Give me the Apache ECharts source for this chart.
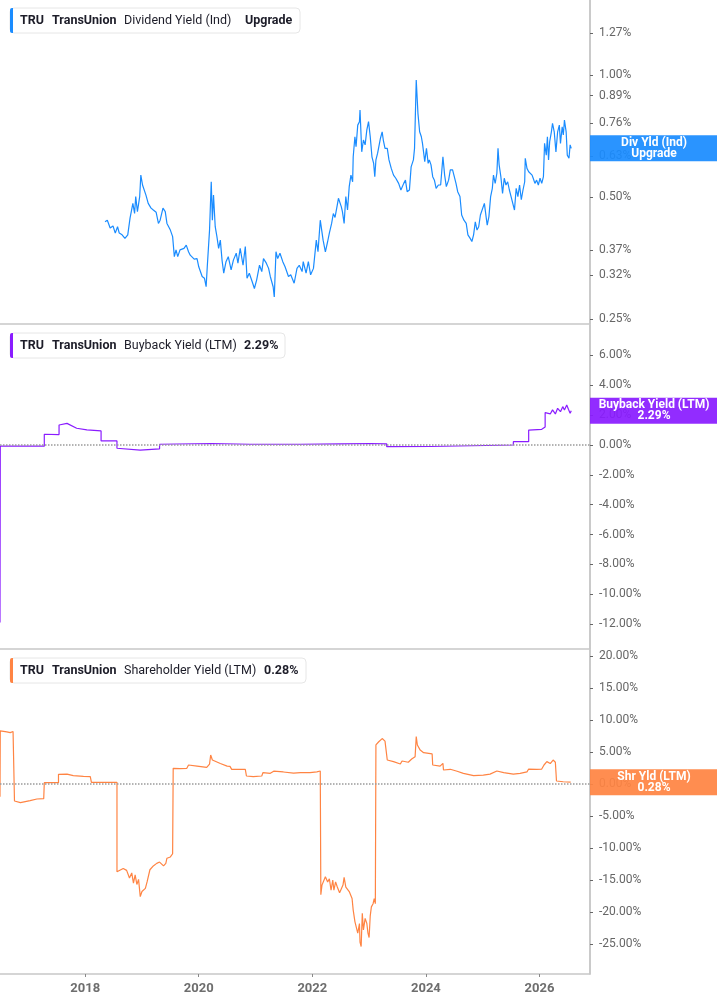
<!DOCTYPE html>
<html>
<head>
<meta charset="utf-8">
<script src="https://cdn.jsdelivr.net/npm/echarts@6/dist/echarts.min.js"></script>
<style>
html, body { margin: 0; padding: 0; background: #fff; }
#main { width: 717px; height: 1005px; }
</style>
</head>
<body>
<div id="main"></div>
<script>
// tick labels
const yearTicks = [2018, 2020, 2022, 2024, 2026];
const divTicks = [0.25, 0.32, 0.37, 0.50, 0.63, 0.76, 0.89, 1.00, 1.27];
const buyTicks = [-12, -10, -8, -6, -4, -2, 0, 2, 4, 6];
const shrTicks = [-25, -20, -15, -10, -5, 0, 5, 10, 15, 20];

// [year, %]
const divYield = [
  [2018.35,0.434],[2018.39,0.438],[2018.44,0.419],[2018.49,0.424],[2018.53,0.407],[2018.57,0.422],[2018.60,0.407],
  [2018.65,0.403],[2018.70,0.395],[2018.75,0.403],[2018.79,0.443],[2018.82,0.447],[2018.84,0.482],[2018.87,0.455],
  [2018.89,0.501],[2018.92,0.460],[2018.96,0.501],[2018.98,0.566],[2019.01,0.535],[2019.04,0.530],[2019.07,0.505],
  [2019.11,0.482],[2019.16,0.469],[2019.20,0.464],[2019.25,0.458],[2019.29,0.430],[2019.32,0.438],[2019.37,0.469],
  [2019.41,0.460],[2019.44,0.430],[2019.50,0.414],[2019.54,0.399],[2019.57,0.356],[2019.60,0.370],[2019.63,0.356],
  [2019.67,0.370],[2019.70,0.366],[2019.74,0.373],[2019.78,0.380],[2019.82,0.366],[2019.85,0.359],[2019.88,0.356],
  [2019.92,0.351],[2019.97,0.352],[2020.00,0.336],[2020.06,0.318],[2020.10,0.315],[2020.13,0.300],[2020.15,0.336],
  [2020.19,0.414],[2020.22,0.545],[2020.24,0.438],[2020.26,0.505],[2020.29,0.422],[2020.32,0.399],[2020.35,0.373],
  [2020.38,0.391],[2020.41,0.349],[2020.44,0.324],[2020.48,0.346],[2020.52,0.356],[2020.57,0.330],[2020.61,0.349],
  [2020.66,0.363],[2020.69,0.343],[2020.73,0.373],[2020.78,0.339],[2020.82,0.377],[2020.85,0.315],[2020.89,0.324],
  [2020.94,0.309],[2020.98,0.297],[2021.02,0.312],[2021.07,0.339],[2021.11,0.327],[2021.14,0.352],[2021.19,0.343],
  [2021.23,0.333],[2021.26,0.318],[2021.31,0.300],[2021.33,0.283],[2021.36,0.366],[2021.39,0.352],[2021.43,0.363],
  [2021.48,0.346],[2021.52,0.336],[2021.58,0.318],[2021.62,0.321],[2021.68,0.306],[2021.73,0.333],[2021.77,0.339],
  [2021.82,0.327],[2021.84,0.346],[2021.89,0.324],[2021.93,0.346],[2021.97,0.321],[2022.02,0.333],[2022.07,0.391],
  [2022.10,0.366],[2022.14,0.438],[2022.19,0.391],[2022.23,0.366],[2022.27,0.388],[2022.30,0.407],[2022.34,0.430],
  [2022.37,0.455],[2022.40,0.445],[2022.44,0.478],[2022.46,0.496],[2022.51,0.473],[2022.53,0.460],[2022.56,0.430],
  [2022.59,0.501],[2022.62,0.464],[2022.65,0.530],[2022.68,0.566],[2022.71,0.545],[2022.72,0.628],[2022.75,0.704],
  [2022.77,0.665],[2022.80,0.752],[2022.83,0.767],[2022.84,0.820],[2022.87,0.646],[2022.90,0.691],[2022.93,0.672],
  [2022.96,0.732],[2022.99,0.767],[2023.02,0.704],[2023.05,0.628],[2023.08,0.605],[2023.10,0.561],[2023.12,0.617],
  [2023.15,0.641],[2023.20,0.698],[2023.23,0.724],[2023.25,0.691],[2023.28,0.659],[2023.32,0.659],[2023.35,0.617],
  [2023.39,0.588],[2023.43,0.566],[2023.47,0.556],[2023.52,0.540],[2023.56,0.520],[2023.61,0.540],[2023.64,0.550],
  [2023.67,0.515],[2023.71,0.520],[2023.74,0.593],[2023.78,0.617],[2023.80,0.659],[2023.83,0.972],[2023.86,0.804],
  [2023.89,0.724],[2023.92,0.704],[2023.94,0.678],[2023.98,0.611],[2024.01,0.659],[2024.04,0.605],[2024.06,0.617],
  [2024.09,0.600],[2024.12,0.561],[2024.15,0.550],[2024.18,0.525],[2024.22,0.535],[2024.26,0.535],[2024.30,0.628],
  [2024.33,0.566],[2024.36,0.530],[2024.40,0.550],[2024.43,0.583],[2024.47,0.583],[2024.50,0.561],[2024.53,0.540],
  [2024.56,0.515],[2024.60,0.501],[2024.63,0.451],[2024.67,0.438],[2024.71,0.430],[2024.74,0.403],[2024.78,0.395],
  [2024.81,0.388],[2024.84,0.403],[2024.87,0.434],[2024.90,0.414],[2024.93,0.422],[2024.96,0.451],[2024.99,0.447],
  [2025.03,0.482],[2025.06,0.447],[2025.08,0.426],[2025.11,0.447],[2025.14,0.501],[2025.17,0.525],[2025.19,0.566],
  [2025.22,0.540],[2025.25,0.572],[2025.27,0.659],[2025.29,0.600],[2025.32,0.561],[2025.35,0.510],[2025.38,0.556],
  [2025.41,0.535],[2025.44,0.545],[2025.47,0.520],[2025.50,0.501],[2025.53,0.496],[2025.56,0.464],[2025.59,0.525],
  [2025.62,0.501],[2025.65,0.535],[2025.68,0.492],[2025.71,0.520],[2025.74,0.545],[2025.75,0.623],[2025.78,0.588],
  [2025.81,0.577],[2025.84,0.577],[2025.87,0.566],[2025.89,0.556],[2025.92,0.540],[2025.95,0.550],[2025.98,0.535],
  [2026.01,0.556],[2026.04,0.540],[2026.07,0.561],[2026.09,0.678],[2026.12,0.634],[2026.14,0.704],[2026.16,0.617],
  [2026.18,0.685],[2026.21,0.724],[2026.23,0.760],[2026.26,0.724],[2026.29,0.646],[2026.32,0.724],[2026.35,0.752],
  [2026.37,0.678],[2026.40,0.745],[2026.42,0.711],[2026.44,0.774],[2026.47,0.724],[2026.49,0.634],[2026.52,0.623],
  [2026.54,0.672],[2026.56,0.659]
];

const buybackYield = [
  [2016.50,-11.9],[2016.505,-0.08],[2017.28,-0.08],[2017.28,0.72],[2017.54,0.70],[2017.54,1.34],[2017.68,1.45],
  [2017.85,1.12],[2018.03,1.01],[2018.28,0.94],[2018.28,0.27],[2018.56,0.27],[2018.56,-0.22],[2018.97,-0.34],
  [2019.31,-0.26],[2019.31,0.05],[2020.23,0.10],[2020.90,0.05],[2021.79,0.05],[2022.49,0.08],[2023.02,0.10],
  [2023.31,0.08],[2023.31,-0.11],[2024.08,-0.10],[2024.81,-0.05],[2025.54,0.0],[2025.54,0.22],[2025.81,0.22],
  [2025.81,1.0],[2026.04,1.05],[2026.10,1.2],[2026.10,2.17],[2026.13,2.23],[2026.19,2.08],[2026.23,2.35],
  [2026.28,2.08],[2026.32,2.46],[2026.37,2.23],[2026.41,2.57],[2026.44,2.35],[2026.48,2.68],[2026.51,2.39],
  [2026.54,2.12],[2026.56,2.29]
];

const shareholderYield = [
  [2016.50,-2.0],[2016.505,8.3],[2016.62,8.15],[2016.68,8.02],[2016.73,8.2],[2016.75,8.1],[2016.755,-2.66],
  [2016.86,-2.9],[2017.03,-2.6],[2017.15,-2.34],[2017.27,-2.3],[2017.28,0.2],[2017.53,0.2],[2017.53,1.51],
  [2017.68,1.55],[2017.79,1.3],[2017.97,1.2],[2018.09,1.15],[2018.11,0.26],[2018.56,0.26],[2018.56,-13.7],
  [2018.59,-14.0],[2018.67,-13.2],[2018.73,-13.5],[2018.78,-14.7],[2018.82,-13.9],[2018.85,-15.5],[2018.88,-14.2],
  [2018.91,-15.7],[2018.94,-14.9],[2018.97,-17.6],[2019.00,-16.8],[2019.03,-17.0],[2019.06,-16.3],[2019.09,-15.3],
  [2019.11,-15.3],[2019.14,-13.4],[2019.20,-12.8],[2019.26,-12.4],[2019.31,-12.2],[2019.34,-11.9],[2019.38,-12.8],
  [2019.42,-12.4],[2019.44,-11.6],[2019.50,-11.4],[2019.54,-10.9],[2019.55,2.45],[2019.67,2.4],[2019.79,2.45],
  [2019.82,2.97],[2019.97,2.8],[2020.14,2.6],[2020.19,3.1],[2020.21,4.53],[2020.24,3.75],[2020.26,3.5],
  [2020.38,3.2],[2020.50,2.8],[2020.55,2.75],[2020.58,2.29],[2020.82,2.29],[2020.84,1.25],[2020.96,1.15],
  [2021.11,1.25],[2021.13,1.77],[2021.26,1.67],[2021.32,2.0],[2021.49,1.88],[2021.67,1.7],[2021.79,1.77],
  [2021.96,1.77],[2022.08,1.9],[2022.14,2.03],[2022.15,-17.3],[2022.17,-15.8],[2022.23,-14.5],[2022.27,-15.3],
  [2022.30,-14.8],[2022.33,-16.6],[2022.36,-15.0],[2022.38,-16.6],[2022.41,-15.3],[2022.44,-16.1],[2022.48,-17.0],
  [2022.50,-16.6],[2022.54,-15.8],[2022.56,-14.6],[2022.59,-16.1],[2022.62,-15.8],[2022.65,-16.8],[2022.68,-16.8],
  [2022.70,-17.9],[2022.72,-19.7],[2022.75,-21.5],[2022.78,-21.3],[2022.80,-23.3],[2022.83,-21.8],[2022.84,-24.7],
  [2022.86,-25.4],[2022.88,-20.2],[2022.90,-22.8],[2022.93,-21.0],[2022.96,-21.8],[2022.98,-23.3],[2023.00,-24.0],
  [2023.02,-20.6],[2023.04,-19.2],[2023.07,-18.7],[2023.09,-17.9],[2023.11,-18.7],[2023.12,6.1],[2023.17,6.6],
  [2023.23,7.1],[2023.28,6.7],[2023.31,6.6],[2023.32,3.75],[2023.43,3.5],[2023.55,3.12],[2023.58,3.6],
  [2023.69,3.4],[2023.75,3.9],[2023.81,4.27],[2023.83,7.4],[2023.85,6.1],[2023.90,5.3],[2023.96,4.9],
  [2024.05,4.8],[2024.11,4.7],[2024.12,2.97],[2024.25,2.8],[2024.30,3.23],[2024.31,2.19],[2024.43,2.3],
  [2024.55,2.0],[2024.66,1.67],[2024.84,1.3],[2025.01,1.4],[2025.13,1.55],[2025.25,2.03],[2025.37,1.77],
  [2025.54,1.55],[2025.66,1.67],[2025.78,1.9],[2025.81,2.34],[2025.95,2.29],[2026.04,2.34],[2026.08,2.97],
  [2026.13,3.5],[2026.19,3.2],[2026.24,3.75],[2026.28,3.4],[2026.30,0.47],[2026.42,0.35],[2026.55,0.28]
];

const FONT = 'Roboto, "Noto Sans", sans-serif';
const BLUE = '#1a8cff', PURPLE = '#8a1cff', ORANGE = '#ff8443';
const pct = v => v.toFixed(2) + '%';

function xAxis(i, last) {
  return {
    type: 'value', gridIndex: i, min: 2016.5, max: 2026.89,
    axisLine: { show: true, onZero: false, lineStyle: { color: '#c8c8c8', width: 1.5 } },
    axisTick: { show: last, length: 3, customValues: yearTicks, lineStyle: { color: '#888' } },
    axisLabel: {
      show: last, customValues: yearTicks, formatter: v => String(v),
      color: '#6e6e6e', fontWeight: 'bold', fontSize: 13, fontFamily: FONT, margin: 8
    },
    splitLine: { show: false }
  };
}

function yAxis(i, type, min, max, ticks) {
  return {
    type: type, gridIndex: i, position: 'right', min: min, max: max,
    axisLine: { show: true, onZero: false, lineStyle: { color: '#b8b8b8', width: 1.5 } },
    axisTick: { show: true, length: 3, customValues: ticks, lineStyle: { color: '#666' } },
    axisLabel: { customValues: ticks, formatter: pct, color: '#666', fontSize: 12, fontFamily: FONT, margin: 9 },
    splitLine: { show: false }
  };
}

const zeroLine = {
  silent: true, symbol: 'none', label: { show: false },
  lineStyle: { color: '#9a9a9a', type: 'dotted', width: 1.5 },
  data: [{ yAxis: 0 }]
};

function line(i, data, color, mark) {
  return {
    type: 'line', xAxisIndex: i, yAxisIndex: i, data: data,
    showSymbol: false, animation: false,
    lineStyle: { color: color, width: 1.2 }, itemStyle: { color: color },
    markLine: mark
  };
}

const chart = echarts.init(document.getElementById('main'));
chart.setOption({
  animation: false,
  grid: [
    { left: 0, right: 127, top: 0, height: 324 },
    { left: 0, right: 127, top: 325, height: 324 },
    { left: 0, right: 127, top: 650, height: 324 }
  ],
  xAxis: [xAxis(0, false), xAxis(1, false), xAxis(2, true)],
  yAxis: [
    yAxis(0, 'log', 0.2427, 1.532, divTicks),
    yAxis(1, 'value', -13.67, 8.04, buyTicks),
    yAxis(2, 'value', -29.69, 20.94, shrTicks)
  ],
  series: [
    line(0, divYield, BLUE),
    line(1, buybackYield, PURPLE, zeroLine),
    line(2, shareholderYield, ORANGE, zeroLine)
  ]
});

function legendBox(top, color, desc, value, valueX, width) {
  const ty = top + 12.5;
  const txt = (x, s, w) => ({
    type: 'text', z: 10,
    style: { x: x, y: ty, text: s, fill: '#1d1d29', font: w + ' 12.5px ' + FONT, textVerticalAlign: 'middle' }
  });
  return {
    type: 'group', children: [
      { type: 'rect', z: 10, shape: { x: 10, y: top, width: width, height: 25, r: 4 },
        style: { fill: '#fff', stroke: '#e6e6e6', lineWidth: 1 } },
      { type: 'rect', z: 11, shape: { x: 10, y: top, width: 3, height: 25, r: [2, 0, 0, 2] }, style: { fill: color } },
      txt(20, 'TRU', 'bold'),
      txt(52, 'TransUnion', 'bold'),
      txt(124, desc, 'normal'),
      txt(valueX, value, 'bold')
    ]
  };
}

function tag(axis, v, color, l1, l2) {
  const y = chart.convertToPixel({ yAxisIndex: axis }, v);
  return {
    type: 'group', children: [
      { type: 'rect', z: 10, shape: { x: 590, y: y - 13, width: 127, height: 26 }, style: { fill: color, opacity: 0.93 } },
      { type: 'text', z: 11, style: {
          x: 654, y: y, text: l1 + '\n' + l2, fill: '#fff', font: 'bold 12px ' + FONT,
          textAlign: 'center', textVerticalAlign: 'middle', lineHeight: 11 } }
    ]
  };
}

const lastOf = a => a[a.length - 1][1];
chart.setOption({
  graphic: [
    legendBox(8, BLUE, 'Dividend Yield (Ind)', 'Upgrade', 245, 290),
    legendBox(333, PURPLE, 'Buyback Yield (LTM)', '2.29%', 244, 275),
    legendBox(658, ORANGE, 'Shareholder Yield (LTM)', '0.28%', 264, 296),
    tag(0, lastOf(divYield), BLUE, 'Div Yld (Ind)', 'Upgrade'),
    tag(1, lastOf(buybackYield), PURPLE, 'Buyback Yield (LTM)', '2.29%'),
    tag(2, lastOf(shareholderYield), ORANGE, 'Shr Yld (LTM)', '0.28%')
  ]
});
</script>
</body>
</html>
